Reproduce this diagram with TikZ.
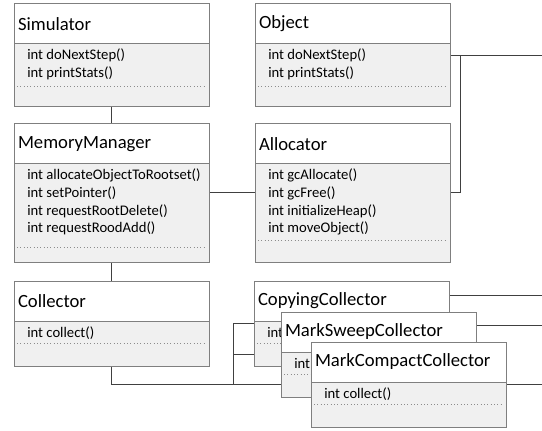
\documentclass[tikz,border=0pt]{standalone}
\usepackage{fontspec}
\setmainfont{Carlito}
\usetikzlibrary{positioning,backgrounds}

\definecolor{bodygray}{HTML}{F0F0F0}
\definecolor{boxline}{HTML}{7F7F7F}
\definecolor{linkline}{HTML}{404040}

\tikzset{
  classtitle/.style={draw=boxline, fill=white, line width=0.75pt, outer sep=0pt,
    anchor=north west, minimum width=146.25pt, minimum height=30pt,
    text width=140.25pt, inner xsep=3pt, inner ysep=0pt, align=left,
    font=\fontsize{14}{16}\selectfont},
  classbody/.style={draw=boxline, fill=bodygray, line width=0.75pt, outer sep=0pt,
    minimum width=146.25pt, inner sep=0pt},
  classitem/.style={anchor=base west, inner sep=0pt, font=\fontsize{11}{13}\selectfont},
  classdots/.style={draw=black!45, dotted, line width=0.5pt},
  link/.style={draw=linkline, line width=0.75pt},
}

% class box: name, top left corner, title, operations, body height, dotted line offset
\newcommand{\umlclass}[6]{%
  \node[classtitle] (#1) at (#2) {#3};
  \node[classbody, minimum height=#5, below=0pt of #1] (#1-b) {};
  \foreach \op [count=\k] in {#4}
    \node[classitem] (#1-\k) at ([shift={(13,16+17.5*(\k-1))}]#1-b.north west) {\op};
  \draw[classdots] ([shift={(3,#6)}]#1-b.north west) -- ([shift={(-3,#6)}]#1-b.north east);
}

\begin{document}
\begin{tikzpicture}[x=0.75pt, y=-0.75pt]
  \useasboundingbox (0,0) rectangle (542,431);

  \umlclass{sim}{14,4}{Simulator}{int doNextStep(), int printStats()}{47.25pt}{42}
  \umlclass{obj}{255,4}{Object}{int doNextStep(), int printStats()}{47.25pt}{42}
  \umlclass{mm}{14,124}{MemoryManager}{int allocateObjectToRootset(), int setPointer(),
    int requestRootDelete(), int requestRoodAdd()}{73.5pt}{83}
  \umlclass{alloc}{255,124}{Allocator}{int gcAllocate(), int gcFree(),
    int initializeHeap(), int moveObject()}{73.5pt}{76}
  \umlclass{col}{14,281}{Collector}{int collect()}{33.75pt}{22}
  \umlclass{copy}{254,281}{CopyingCollector}{int collect()}{33.75pt}{22}
  \umlclass{sweep}{281,312}{MarkSweepCollector}{int collect()}{33.75pt}{22}
  \umlclass{compact}{311,342}{MarkCompactCollector}{int collect()}{33.75pt}{22}

  % free ends at the right margin
  \coordinate (objend) at (542,56);
  \coordinate (copyend) at (542,295);
  \coordinate (sweepend) at (542,325);
  \coordinate (busend) at (542,384);
  \coordinate (fork) at (233,384);

  \begin{scope}[on background layer]
    \draw[link] (sim-b.south) -- (mm.north);
    \draw[link] (mm-b.south) -- (col.north);
    \draw[link] ([shift={(0,28)}]mm-b.north east) -- ([shift={(0,28)}]alloc-b.north west);
    \draw[link] ([shift={(0,12)}]obj-b.north east) -- (objend);
    \draw[link] ([shift={(0,28)}]alloc-b.north east) -- ++(10,0) |- ([shift={(0,12)}]obj-b.north east);
    \draw[link] (col-b.south) |- (busend);
    \draw[link] ([shift={(0,2)}]copy-b.north west) -| (fork);
    \draw[link] ([shift={(0,2)}]sweep-b.north west) -| (fork);
    \draw[link] ([shift={(0,14)}]copy.north east) -- (copyend);
    \draw[link] ([shift={(0,13)}]sweep.north east) -- (sweepend);
  \end{scope}
\end{tikzpicture}
\end{document}
